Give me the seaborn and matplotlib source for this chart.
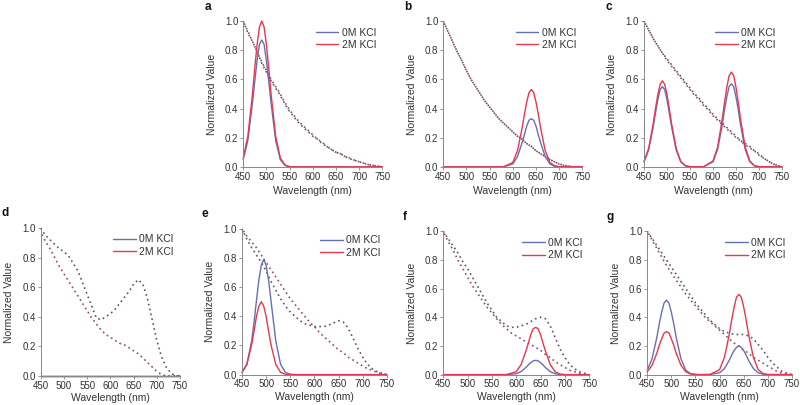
import matplotlib
matplotlib.use("Agg")
import matplotlib.pyplot as plt
import seaborn as sns

# Wavelength grids (nm)
EM_WL = [450, 460, 470, 475, 480, 485, 490, 495, 500, 505, 510, 520, 530, 540, 550,
         560, 580, 600, 610, 620, 625, 630, 635, 640, 645, 650, 655, 660, 670, 680, 690, 700, 750]
AB_WL = list(range(450, 751, 10))

LEGEND_LABELS = ["0M KCl", "2M KCl"]
PANEL_LETTERS = ["a", "b", "c", "d", "e", "f", "g"]
X_TICKS = [450, 500, 550, 600, 650, 700, 750]
Y_TICKS = [0.0, 0.2, 0.4, 0.6, 0.8, 1.0]

Z18 = [0] * 18
Z15 = [0] * 15

# Emission (solid) curves on EM_WL
em_a_0 = [0.05, 0.18, 0.44, 0.59, 0.73, 0.84, 0.87, 0.84, 0.73, 0.59, 0.44, 0.18, 0.05, 0.01, 0] + Z18
em_a_2 = [0.06, 0.21, 0.50, 0.68, 0.84, 0.96, 1.0, 0.96, 0.84, 0.68, 0.50, 0.21, 0.06, 0.013, 0.002] + Z18
em_b_0 = Z15 + [0, 0, 0.02, 0.07, 0.165, 0.22, 0.28, 0.32, 0.33, 0.32, 0.28, 0.22, 0.165, 0.07, 0.02, 0.004, 0, 0]
em_b_2 = Z15 + [0, 0, 0.03, 0.11, 0.265, 0.36, 0.445, 0.51, 0.53, 0.51, 0.445, 0.36, 0.265, 0.11, 0.03, 0.007, 0.001, 0]
em_c_0 = [0.035, 0.115, 0.275, 0.37, 0.46, 0.53, 0.55, 0.53, 0.46, 0.37, 0.275, 0.115, 0.035, 0.007, 0.001,
          0, 0.001, 0.035, 0.12, 0.285, 0.39, 0.48, 0.55, 0.57, 0.55, 0.48, 0.39, 0.285, 0.12, 0.035, 0.007, 0.001, 0]
em_c_2 = [0.035, 0.125, 0.295, 0.40, 0.495, 0.565, 0.59, 0.565, 0.495, 0.40, 0.295, 0.125, 0.035, 0.008, 0.001,
          0, 0.001, 0.04, 0.135, 0.325, 0.44, 0.545, 0.625, 0.65, 0.625, 0.545, 0.44, 0.325, 0.135, 0.04, 0.008, 0.001, 0]
em_d_0 = Z15 + Z18
em_d_2 = Z15 + Z18
em_e_0 = [0.015, 0.07, 0.23, 0.36, 0.51, 0.65, 0.75, 0.79, 0.75, 0.65, 0.51, 0.23, 0.07, 0.015, 0.003] + Z18
em_e_2 = [0.015, 0.07, 0.205, 0.30, 0.40, 0.47, 0.50, 0.47, 0.40, 0.30, 0.205, 0.07, 0.015, 0.002, 0] + Z18
em_f_0 = Z15 + [0, 0, 0.006, 0.021, 0.05, 0.068, 0.084, 0.096, 0.10, 0.096, 0.084, 0.068, 0.05, 0.021, 0.006, 0.001, 0, 0]
em_f_2 = Z15 + [0, 0, 0.02, 0.07, 0.165, 0.22, 0.28, 0.32, 0.33, 0.32, 0.28, 0.22, 0.165, 0.07, 0.02, 0.004, 0, 0]
em_g_0 = [0.03, 0.11, 0.26, 0.355, 0.435, 0.50, 0.52, 0.50, 0.435, 0.355, 0.26, 0.11, 0.03, 0.007, 0.001,
          0, 0.001, 0.013, 0.042, 0.10, 0.136, 0.168, 0.19, 0.20, 0.19, 0.168, 0.136, 0.10, 0.042, 0.013, 0.003, 0, 0]
em_g_2 = [0.02, 0.065, 0.15, 0.205, 0.25, 0.29, 0.30, 0.29, 0.25, 0.205, 0.15, 0.065, 0.02, 0.004, 0.001,
          0, 0.001, 0.035, 0.12, 0.28, 0.38, 0.47, 0.54, 0.56, 0.54, 0.47, 0.38, 0.28, 0.12, 0.035, 0.007, 0.001, 0]

# Extinction (dotted) curves on AB_WL
ab_a_0 = [1.0, 0.92, 0.86, 0.79, 0.71, 0.65, 0.59, 0.54, 0.49, 0.43, 0.38, 0.34, 0.30, 0.27, 0.24, 0.21,
          0.19, 0.16, 0.14, 0.12, 0.10, 0.09, 0.07, 0.055, 0.045, 0.035, 0.025, 0.015, 0.01, 0.005, 0.0]
ab_a_2 = [1.0, 0.93, 0.86, 0.79, 0.72, 0.66, 0.60, 0.55, 0.50, 0.44, 0.39, 0.35, 0.31, 0.28, 0.25, 0.22,
          0.19, 0.17, 0.14, 0.12, 0.10, 0.09, 0.07, 0.06, 0.045, 0.035, 0.025, 0.015, 0.01, 0.005, 0.0]
ab_b_0 = [1.0, 0.93, 0.86, 0.79, 0.73, 0.66, 0.60, 0.55, 0.50, 0.45, 0.41, 0.37, 0.33, 0.30, 0.27, 0.24,
          0.21, 0.19, 0.16, 0.14, 0.11, 0.09, 0.07, 0.05, 0.035, 0.02, 0.01, 0.005, 0.0, 0.0, 0.0]
ab_b_2 = [1.0, 0.93, 0.86, 0.79, 0.73, 0.66, 0.60, 0.55, 0.50, 0.45, 0.41, 0.37, 0.33, 0.30, 0.27, 0.24,
          0.21, 0.19, 0.16, 0.14, 0.11, 0.09, 0.07, 0.05, 0.035, 0.02, 0.01, 0.005, 0.0, 0.0, 0.0]
ab_c_0 = [1.0, 0.94, 0.88, 0.83, 0.78, 0.74, 0.70, 0.66, 0.62, 0.58, 0.54, 0.50, 0.47, 0.43, 0.40, 0.36,
          0.33, 0.30, 0.27, 0.24, 0.21, 0.18, 0.16, 0.14, 0.11, 0.09, 0.06, 0.04, 0.02, 0.01, 0.0]
ab_c_2 = [1.0, 0.94, 0.88, 0.83, 0.78, 0.73, 0.69, 0.65, 0.61, 0.57, 0.53, 0.49, 0.46, 0.42, 0.39, 0.35,
          0.32, 0.29, 0.26, 0.23, 0.20, 0.18, 0.15, 0.13, 0.11, 0.08, 0.06, 0.04, 0.02, 0.01, 0.0]
ab_d_0 = [1.0, 0.95, 0.92, 0.89, 0.86, 0.84, 0.81, 0.76, 0.71, 0.63, 0.55, 0.47, 0.39, 0.38, 0.40, 0.42,
          0.45, 0.49, 0.53, 0.57, 0.62, 0.65, 0.62, 0.52, 0.38, 0.24, 0.13, 0.06, 0.02, 0.0, 0.0]
ab_d_2 = [0.97, 0.91, 0.86, 0.80, 0.74, 0.69, 0.64, 0.59, 0.54, 0.49, 0.44, 0.39, 0.35, 0.31, 0.28, 0.26,
          0.24, 0.22, 0.21, 0.19, 0.17, 0.15, 0.12, 0.09, 0.06, 0.03, 0.01, 0.0, 0.0, 0.0, 0.0]
ab_e_0 = [1.0, 0.93, 0.87, 0.82, 0.77, 0.71, 0.64, 0.58, 0.52, 0.47, 0.43, 0.40, 0.37, 0.35, 0.34, 0.33,
          0.33, 0.33, 0.34, 0.355, 0.37, 0.36, 0.32, 0.25, 0.18, 0.12, 0.07, 0.04, 0.02, 0.01, 0.0]
ab_e_2 = [1.0, 0.95, 0.91, 0.87, 0.82, 0.77, 0.72, 0.67, 0.62, 0.57, 0.52, 0.48, 0.44, 0.40, 0.36, 0.33,
          0.29, 0.26, 0.23, 0.20, 0.17, 0.15, 0.12, 0.10, 0.08, 0.06, 0.04, 0.03, 0.015, 0.005, 0.0]
ab_f_0 = [1.0, 0.95, 0.90, 0.85, 0.79, 0.74, 0.68, 0.62, 0.56, 0.50, 0.45, 0.40, 0.37, 0.34, 0.33, 0.33,
          0.34, 0.35, 0.37, 0.39, 0.40, 0.39, 0.34, 0.26, 0.18, 0.12, 0.07, 0.04, 0.02, 0.01, 0.0]
ab_f_2 = [1.0, 0.93, 0.87, 0.80, 0.74, 0.68, 0.62, 0.57, 0.52, 0.47, 0.43, 0.39, 0.35, 0.32, 0.29, 0.27,
          0.25, 0.23, 0.21, 0.19, 0.17, 0.14, 0.12, 0.09, 0.07, 0.05, 0.03, 0.02, 0.01, 0.0, 0.0]
ab_g_0 = [1.0, 0.95, 0.90, 0.85, 0.80, 0.75, 0.70, 0.65, 0.60, 0.55, 0.50, 0.46, 0.42, 0.38, 0.35, 0.32,
          0.30, 0.29, 0.28, 0.28, 0.28, 0.27, 0.25, 0.21, 0.17, 0.12, 0.08, 0.05, 0.02, 0.01, 0.0]
ab_g_2 = [1.0, 0.94, 0.88, 0.82, 0.76, 0.71, 0.66, 0.61, 0.56, 0.52, 0.48, 0.44, 0.40, 0.37, 0.34, 0.31,
          0.28, 0.25, 0.22, 0.20, 0.17, 0.15, 0.12, 0.10, 0.08, 0.06, 0.04, 0.02, 0.01, 0.0, 0.0]

# Colours
C0 = "#6670b0"
C2 = "#e8374f"
C0_DOT = "#55557a"
C2_DOT = "#9a4a60"
TXT = "#333333"

sns.set_theme(style="ticks")
plt.rcParams["font.family"] = ["Liberation Sans", "DejaVu Sans"]
plt.rcParams["axes.edgecolor"] = "#888888"
plt.rcParams["axes.linewidth"] = 0.7

fig = plt.figure(figsize=(8, 4.05), dpi=100)

rects = [
    [0.304, 0.588, 0.174, 0.360],
    [0.554, 0.588, 0.174, 0.360],
    [0.805, 0.588, 0.1725, 0.360],
    [0.051, 0.072, 0.174, 0.365],
    [0.3025, 0.075, 0.181, 0.360],
    [0.554, 0.075, 0.1825, 0.354],
    [0.809, 0.075, 0.181, 0.354],
]
emissions = [(em_a_0, em_a_2), (em_b_0, em_b_2), (em_c_0, em_c_2), (em_d_0, em_d_2),
             (em_e_0, em_e_2), (em_f_0, em_f_2), (em_g_0, em_g_2)]
extinctions = [(ab_a_0, ab_a_2), (ab_b_0, ab_b_2), (ab_c_0, ab_c_2), (ab_d_0, ab_d_2),
               (ab_e_0, ab_e_2), (ab_f_0, ab_f_2), (ab_g_0, ab_g_2)]

for i, (rect, (e0, e2), (a0, a2), letter) in enumerate(
        zip(rects, emissions, extinctions, PANEL_LETTERS)):
    ax = fig.add_axes(rect)
    # dotted extinction curves
    sns.lineplot(x=AB_WL, y=a0, ax=ax, color=C0_DOT, linewidth=1.2,
                 linestyle=(0, (1, 2)), label="_nolegend_", clip_on=False)
    sns.lineplot(x=AB_WL, y=a2, ax=ax, color=C2_DOT, linewidth=1.2,
                 linestyle=(1.5, (1, 2)), label="_nolegend_", clip_on=False)
    # solid emission curves
    sns.lineplot(x=EM_WL, y=e0, ax=ax, color=C0, linewidth=1.0,
                 label=LEGEND_LABELS[0], clip_on=False)
    sns.lineplot(x=EM_WL, y=e2, ax=ax, color=C2, linewidth=1.0,
                 label=LEGEND_LABELS[1], clip_on=False)

    ax.set_xlim(450, 750)
    ax.set_ylim(0, 1.0)
    ax.set_xticks(X_TICKS)
    ax.set_yticks(Y_TICKS)
    ax.tick_params(labelsize=7, length=2, width=0.6, pad=1.5,
                   colors="#888888", labelcolor=TXT)
    ax.set_xlabel("Wavelength (nm)", fontsize=7.5, color=TXT,
                  labelpad=3 if i < 3 else 1.5)
    ax.set_ylabel("Normalized Value", fontsize=7.5, color=TXT, labelpad=6)
    sns.despine(ax=ax)
    ax.legend(loc="upper right", bbox_to_anchor=(1.02, 1.02), frameon=False,
              fontsize=7.5, handlelength=2.2, handletextpad=0.3,
              labelspacing=0.25, labelcolor=TXT)
    ax.text(-0.28, 1.14, letter, transform=ax.transAxes, fontsize=8.5,
            fontweight="bold", color="#111111", va="top", ha="left")

fig.savefig("out.png", dpi=100)
